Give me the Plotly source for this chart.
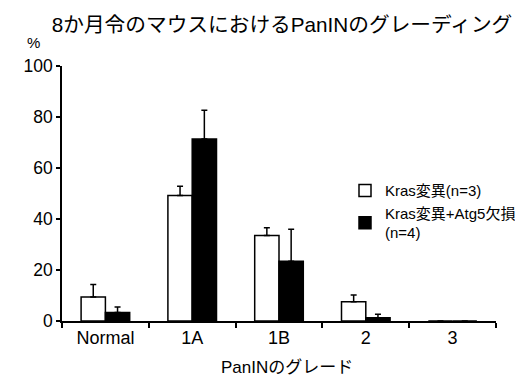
import plotly.graph_objects as go

categories = ["Normal", "1A", "1B", "2", "3"]
kras_vals = [9.4, 49.2, 33.5, 7.5, 0]
kras_err = [4.9, 3.6, 3.1, 2.7, 0]
atg5_vals = [3.3, 71.4, 23.4, 1.3, 0]
atg5_err = [2.2, 11.2, 12.6, 1.3, 0]

series_names = ["Kras変異(n=3)", "Kras変異+Atg5欠損<br>(n=4)"]
title_text = "8か月令のマウスにおけるPanINのグレーディング"
xlabel = "PanINのグレード"
ylabel = "%"

FONT = "Liberation Sans, Arial, Noto Sans CJK JP, sans-serif"

# the page has an 8px body margin: size figure to the rest of the window
OFF = 8
W, H = 523 - OFF, 376 - OFF
L, T = 62 - OFF, 66 - OFF
R = W - (496 - OFF)
B = H - (320.7 - OFF)
PW, PH = W - L - R, H - T - B

def px_x(x):
    return (x - OFF - L) / PW

def px_y(y):
    return (H - B - (y - OFF)) / PH

fig = go.Figure()
fig.add_trace(go.Bar(
    x=categories, y=kras_vals, name=series_names[0],
    marker=dict(color="white", line=dict(color="black", width=1.5)),
    error_y=dict(type="data", symmetric=False, array=kras_err, arrayminus=[0]*5,
                 color="black", thickness=1.5, width=3),
))
fig.add_trace(go.Bar(
    x=categories, y=atg5_vals, name=series_names[1],
    marker=dict(color="black", line=dict(color="black", width=1.5)),
    error_y=dict(type="data", symmetric=False, array=atg5_err, arrayminus=[0]*5,
                 color="black", thickness=1.5, width=3),
))

fig.update_layout(
    width=W, height=H,
    margin=dict(l=L, r=R, t=T, b=B, autoexpand=False),
    paper_bgcolor="white", plot_bgcolor="white",
    barmode="group", bargap=0.44, bargroupgap=0,
    font=dict(family=FONT, color="black", size=17),
    title=dict(text=title_text, x=(282 - OFF)/W, xanchor="center", y=1-(25 - OFF)/H, yanchor="middle",
               font=dict(size=20.7, family=FONT)),
    showlegend=True,
    legend=dict(x=px_x(345), y=px_y(174), xanchor="left", yanchor="top",
                font=dict(size=15), bgcolor="rgba(0,0,0,0)", tracegroupgap=4),
    xaxis=dict(showline=True, linecolor="black", linewidth=1.5, ticks="outside",
               tickson="boundaries", ticklen=5, tickcolor="black", tickwidth=1.5,
               showgrid=False, tickfont=dict(size=18)),
    yaxis=dict(range=[0, 100], showline=True, linecolor="black", linewidth=1.5,
               ticks="outside", ticklen=4, tickcolor="black", tickwidth=1.5,
               dtick=20, showgrid=False, zeroline=False, tickfont=dict(size=17.5)),
    annotations=[
        dict(text=ylabel, xref="paper", yref="paper", x=px_x(33), y=px_y(43),
             xanchor="center", yanchor="middle", showarrow=False, font=dict(size=15)),
        dict(text=xlabel, xref="paper", yref="paper", x=px_x(287), y=px_y(367),
             xanchor="center", yanchor="middle", showarrow=False, font=dict(size=17)),
    ],
)

fig.write_html("out.html")
